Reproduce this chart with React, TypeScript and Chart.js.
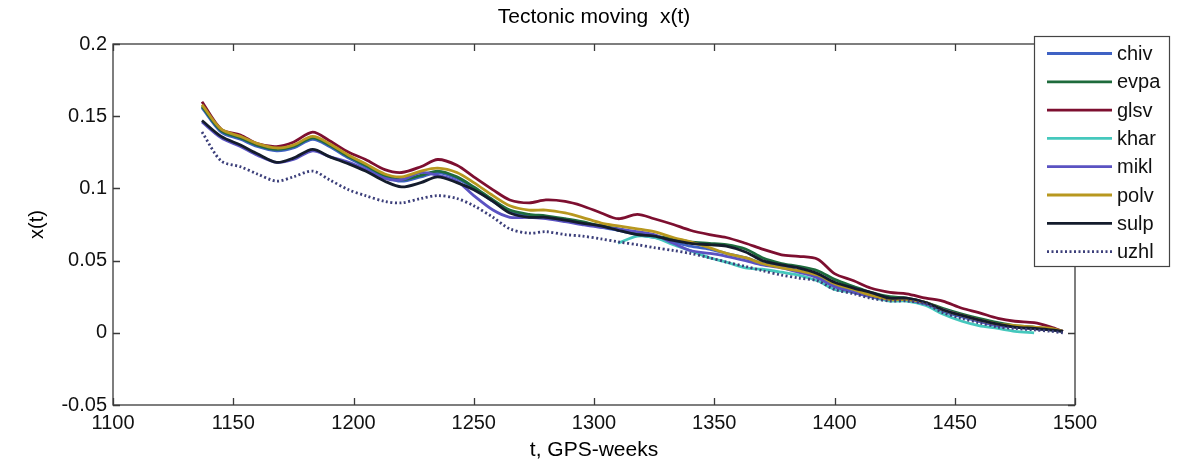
import React, { useEffect, useRef } from "react";
import { Chart, registerables } from "chart.js";

Chart.register(...registerables);

const titleText = "Tectonic moving  x(t)";
const xTitle = "t, GPS-weeks";
const yTitle = "x(t)";

const xTickValues = [1100, 1150, 1200, 1250, 1300, 1350, 1400, 1450, 1500];
const yTickValues = [-0.05, 0, 0.05, 0.1, 0.15, 0.2];

const weeks = [1137, 1145, 1153, 1160, 1168, 1175, 1183, 1190, 1198, 1205, 1213, 1220, 1228, 1235, 1243, 1250, 1258, 1265, 1273, 1280, 1288, 1295, 1303, 1310, 1318, 1325, 1333, 1340, 1348, 1355, 1363, 1370, 1378, 1385, 1393, 1400, 1408, 1415, 1423, 1430, 1438, 1445, 1453, 1460, 1468, 1475, 1483, 1490, 1495];

const chiv = [0.156, 0.139, 0.134, 0.129, 0.126, 0.128, 0.134, 0.129, 0.121, 0.115, 0.108, 0.105, 0.108, 0.111, 0.107, 0.100, 0.091, 0.084, 0.081, 0.080, 0.078, 0.076, 0.073, 0.071, 0.068, 0.066, 0.063, 0.060, 0.058, 0.055, 0.052, 0.048, 0.046, 0.043, 0.039, 0.033, 0.029, 0.026, 0.023, 0.023, 0.020, 0.015, 0.011, 0.008, 0.005, 0.004, 0.003, 0.002, 0.001];
const evpa = [0.157, 0.140, 0.135, 0.130, 0.127, 0.129, 0.135, 0.130, 0.122, 0.116, 0.109, 0.106, 0.109, 0.112, 0.108, 0.101, 0.092, 0.085, 0.082, 0.081, 0.079, 0.077, 0.074, 0.072, 0.069, 0.067, 0.065, 0.063, 0.062, 0.061, 0.058, 0.052, 0.048, 0.046, 0.043, 0.037, 0.032, 0.028, 0.025, 0.024, 0.021, 0.017, 0.013, 0.010, 0.007, 0.005, 0.004, 0.002, 0.001];
const glsv = [0.160, 0.141, 0.137, 0.131, 0.129, 0.132, 0.139, 0.133, 0.125, 0.120, 0.113, 0.111, 0.115, 0.120, 0.116, 0.108, 0.099, 0.092, 0.090, 0.092, 0.091, 0.088, 0.083, 0.079, 0.082, 0.079, 0.075, 0.071, 0.068, 0.066, 0.062, 0.058, 0.054, 0.053, 0.051, 0.041, 0.036, 0.031, 0.028, 0.027, 0.024, 0.022, 0.017, 0.014, 0.010, 0.008, 0.007, 0.004, 0.001];
const khar = [null, null, null, null, null, null, null, null, null, null, null, null, null, null, null, null, null, null, null, null, null, null, null, 0.062, 0.067, 0.066, 0.061, 0.057, 0.052, 0.049, 0.045, 0.044, 0.042, 0.040, 0.036, 0.030, 0.028, 0.025, 0.022, 0.022, 0.019, 0.013, 0.008, 0.005, 0.003, 0.001, 0.000, null, null];
const mikl = [0.146, 0.135, 0.129, 0.123, 0.118, 0.120, 0.126, 0.122, 0.118, 0.113, 0.107, 0.106, 0.111, 0.109, 0.105, 0.095, 0.085, 0.080, 0.080, 0.079, 0.077, 0.075, 0.073, 0.072, 0.070, 0.068, 0.062, 0.057, 0.055, 0.053, 0.050, 0.047, 0.045, 0.042, 0.038, 0.032, 0.028, 0.025, 0.023, 0.023, 0.020, 0.016, 0.012, 0.008, 0.005, 0.004, 0.003, 0.002, 0.001];
const polv = [0.158, 0.141, 0.136, 0.131, 0.128, 0.130, 0.136, 0.131, 0.123, 0.117, 0.110, 0.108, 0.112, 0.114, 0.111, 0.104, 0.095, 0.088, 0.085, 0.085, 0.083, 0.080, 0.076, 0.074, 0.072, 0.070, 0.066, 0.063, 0.059, 0.055, 0.052, 0.048, 0.045, 0.043, 0.040, 0.034, 0.030, 0.026, 0.023, 0.023, 0.021, 0.016, 0.012, 0.009, 0.006, 0.005, 0.004, 0.003, 0.001];
const sulp = [0.147, 0.136, 0.130, 0.124, 0.118, 0.121, 0.127, 0.122, 0.117, 0.112, 0.105, 0.101, 0.104, 0.108, 0.104, 0.099, 0.091, 0.083, 0.080, 0.080, 0.078, 0.076, 0.074, 0.071, 0.068, 0.067, 0.064, 0.062, 0.061, 0.060, 0.056, 0.050, 0.047, 0.045, 0.041, 0.035, 0.031, 0.028, 0.024, 0.024, 0.021, 0.016, 0.012, 0.009, 0.006, 0.004, 0.003, 0.002, 0.001];
const uzhl = [0.139, 0.119, 0.115, 0.110, 0.105, 0.108, 0.112, 0.106, 0.099, 0.095, 0.091, 0.090, 0.093, 0.095, 0.093, 0.088, 0.080, 0.072, 0.069, 0.070, 0.068, 0.067, 0.065, 0.063, 0.061, 0.059, 0.057, 0.055, 0.052, 0.049, 0.046, 0.043, 0.040, 0.038, 0.036, 0.030, 0.027, 0.024, 0.022, 0.022, 0.020, 0.014, 0.010, 0.007, 0.004, 0.003, 0.002, 0.001, 0.000];

const seriesNames = ["chiv", "evpa", "glsv", "khar", "mikl", "polv", "sulp", "uzhl"];
const seriesValues = [chiv, evpa, glsv, khar, mikl, polv, sulp, uzhl];
const seriesColors = ["#3f62c4", "#1e6b3c", "#7d0f30", "#45c8bd", "#5a52c2", "#b8981f", "#141c2c", "#3c3f7a"];
const seriesDashed = [false, false, false, false, false, false, false, true];

const FONT = '"Liberation Sans", Arial, sans-serif';

const framePlugin = {
  id: "matlabFrame",
  afterDraw(chart: any) {
    const { ctx, chartArea: a, scales } = chart;
    ctx.save();
    // axes box
    ctx.strokeStyle = "#3a3a3a";
    ctx.lineWidth = 1.3;
    ctx.strokeRect(a.left, a.top, a.right - a.left, a.bottom - a.top);
    const tl = 7;
    ctx.beginPath();
    xTickValues.forEach((v) => {
      const x = Math.round(scales.x.getPixelForValue(v)) + 0.5;
      ctx.moveTo(x, a.bottom);
      ctx.lineTo(x, a.bottom - tl);
      ctx.moveTo(x, a.top);
      ctx.lineTo(x, a.top + tl);
    });
    yTickValues.forEach((v) => {
      const y = Math.round(scales.y.getPixelForValue(v)) + 0.5;
      ctx.moveTo(a.left, y);
      ctx.lineTo(a.left + tl, y);
      ctx.moveTo(a.right, y);
      ctx.lineTo(a.right - tl, y);
    });
    ctx.stroke();

    // titles
    ctx.fillStyle = "#000";
    ctx.textAlign = "center";
    ctx.textBaseline = "middle";
    ctx.font = `21px ${FONT}`;
    ctx.fillText(titleText, (a.left + a.right) / 2, 17);
    ctx.fillText(xTitle, (a.left + a.right) / 2, 450);
    ctx.save();
    ctx.translate(37, (a.top + a.bottom) / 2);
    ctx.rotate(-Math.PI / 2);
    ctx.font = `20px ${FONT}`;
    ctx.fillText(yTitle, 0, 0);
    ctx.restore();

    // legend
    const lx = 1034, ly = 36, lw = 135, lh = 230;
    ctx.fillStyle = "#ffffff";
    ctx.fillRect(lx, ly, lw, lh);
    ctx.strokeStyle = "#444";
    ctx.lineWidth = 1.2;
    ctx.strokeRect(lx + 0.5, ly + 0.5, lw, lh);
    ctx.textAlign = "left";
    ctx.font = `20px ${FONT}`;
    seriesNames.forEach((name, i) => {
      const y = 53.5 + i * 28.3;
      ctx.beginPath();
      ctx.strokeStyle = seriesColors[i];
      ctx.lineWidth = 2.8;
      ctx.setLineDash(seriesDashed[i] ? [2, 2.5] : []);
      ctx.moveTo(1047, y);
      ctx.lineTo(1112, y);
      ctx.stroke();
      ctx.setLineDash([]);
      ctx.fillStyle = "#111";
      ctx.fillText(name, 1117, y + 1);
    });
    ctx.restore();
  },
};

export default function App() {
  const canvasRef = useRef<HTMLCanvasElement | null>(null);

  useEffect(() => {
    document.body.style.margin = "0";
    document.body.style.background = "#ffffff";
    const canvas = canvasRef.current;
    if (!canvas) return;

    const datasets = seriesNames.map((name, i) => ({
      label: name,
      data: weeks.map((w, j) => ({ x: w, y: seriesValues[i][j] })),
      borderColor: seriesColors[i],
      backgroundColor: seriesColors[i],
      borderWidth: 2.8,
      borderDash: seriesDashed[i] ? [2, 2.5] : [],
      pointRadius: 0,
      tension: 0.3,
      fill: false,
      spanGaps: false,
      order: seriesNames.length - i,
    }));

    const chart = new Chart(canvas, {
      type: "line",
      data: { datasets },
      options: {
        responsive: false,
        animation: false,
        layout: { padding: { top: 44, right: 111, left: 0, bottom: 0 } },
        plugins: {
          legend: { display: false },
          title: { display: false },
          tooltip: { enabled: false },
        },
        scales: {
          x: {
            type: "linear",
            min: 1100,
            max: 1500,
            afterFit: (s: any) => {
              s.height = 58;
            },
            afterBuildTicks: (s: any) => {
              s.ticks = xTickValues.map((v) => ({ value: v }));
            },
            ticks: {
              color: "#111",
              font: { family: FONT, size: 20 },
              padding: 6,
              maxRotation: 0,
              autoSkip: false,
              callback: (v: any) => String(v),
            },
            grid: { display: false, drawTicks: false },
            border: { display: false },
          },
          y: {
            type: "linear",
            min: -0.05,
            max: 0.2,
            afterFit: (s: any) => {
              s.width = 113;
            },
            afterBuildTicks: (s: any) => {
              s.ticks = yTickValues.map((v) => ({ value: v }));
            },
            ticks: {
              color: "#111",
              font: { family: FONT, size: 20 },
              padding: 6,
              callback: (v: any) => String(parseFloat(Number(v).toFixed(2))),
            },
            grid: { display: false, drawTicks: false },
            border: { display: false },
          },
        },
      },
      plugins: [framePlugin],
    });

    return () => chart.destroy();
  }, []);

  return (
    <div style={{ width: 1186, height: 463, background: "#fff" }}>
      <canvas ref={canvasRef} width={1186} height={463} style={{ display: "block" }} />
    </div>
  );
}
